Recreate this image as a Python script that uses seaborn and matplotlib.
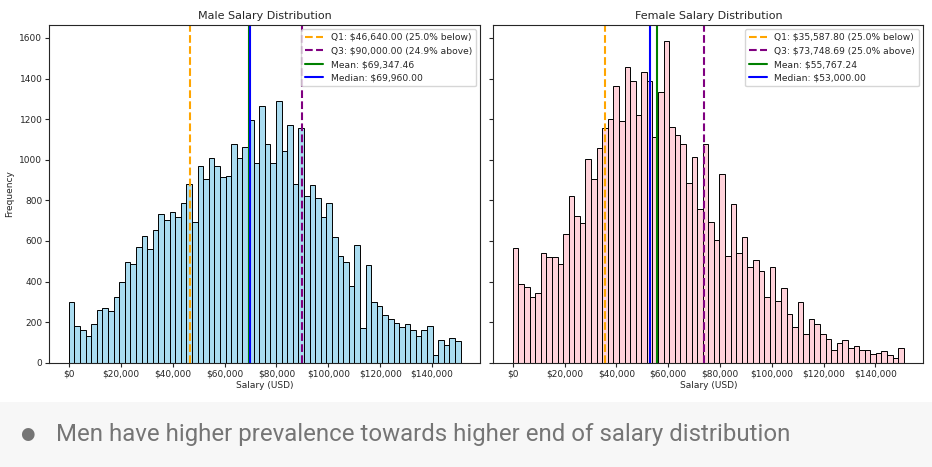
import matplotlib
matplotlib.use("Agg")
import numpy as np
import pandas as pd
import seaborn as sns
import matplotlib.pyplot as plt
from matplotlib.ticker import StrMethodFormatter
from matplotlib.patches import Rectangle

# Histogram counts (70 bins from $0 to ~$151k)
bin_lo, bin_hi, n_bins = 0, 151000, 70

male_counts = [300, 179, 163, 132, 192, 262, 271, 257, 322, 400,
               494, 484, 569, 625, 561, 653, 735, 701, 745, 719,
               788, 882, 691, 971, 903, 1010, 971, 915, 918, 1079,
               1008, 1061, 1196, 984, 1263, 1076, 984, 1290, 1041, 1173,
               880, 1155, 822, 878, 813, 720, 786, 620, 526, 498,
               378, 581, 173, 482, 299, 278, 237, 215, 196, 178,
               189, 163, 132, 160, 183, 36, 114, 89, 122, 105]

female_counts = [566, 390, 372, 322, 344, 543, 523, 521, 487, 635,
                 819, 722, 688, 1002, 905, 1058, 1155, 1203, 1364, 1189,
                 1456, 1387, 1219, 1434, 1388, 1114, 1332, 1586, 1163, 1122,
                 1076, 887, 1015, 757, 1076, 691, 605, 931, 528, 780,
                 540, 617, 474, 507, 451, 322, 474, 303, 368, 240,
                 176, 301, 140, 215, 191, 140, 115, 64, 97, 114,
                 72, 84, 64, 64, 43, 46, 59, 39, 23, 74]

# Summary stats shown in the legends
male_stats = {"q1": 46640.00, "q3": 90000.00, "mean": 69347.46, "median": 69960.00,
              "below": 25.0, "above": 24.9}
female_stats = {"q1": 35587.80, "q3": 73748.69, "mean": 55767.24, "median": 53000.00,
                "below": 25.0, "above": 25.0}

note_text = "Men have higher prevalence towards higher end of salary distribution"

sns.set_style("ticks")
plt.rcParams["font.family"] = ["DejaVu Sans"]

edges = np.linspace(bin_lo, bin_hi, n_bins + 1)
centers = (edges[:-1] + edges[1:]) / 2

fig = plt.figure(figsize=(9.32, 4.67), dpi=100)
fig.patches.append(Rectangle((0, 0), 1, 0.1398, transform=fig.transFigure,
                             facecolor="#f7f7f7", edgecolor="none", zorder=0))

ax_m = fig.add_axes([0.0529, 0.2233, 0.4624, 0.7238])
ax_f = fig.add_axes([0.5293, 0.2233, 0.4614, 0.7238], sharey=ax_m)


def draw_panel(ax, counts, stats, color, title):
    df = pd.DataFrame({"salary": centers, "count": counts})
    sns.histplot(data=df, x="salary", weights="count", bins=n_bins,
                 binrange=(bin_lo, bin_hi), ax=ax, color=color,
                 edgecolor="black", linewidth=0.7, alpha=0.7)
    ax.axvline(stats["q1"], color="orange", linestyle="--", linewidth=1.5,
               label=f"Q1: ${stats['q1']:,.2f} ({stats['below']:.1f}% below)")
    ax.axvline(stats["q3"], color="purple", linestyle="--", linewidth=1.5,
               label=f"Q3: ${stats['q3']:,.2f} ({stats['above']:.1f}% above)")
    ax.axvline(stats["mean"], color="green", linestyle="-", linewidth=1.5,
               label=f"Mean: ${stats['mean']:,.2f}")
    ax.axvline(stats["median"], color="blue", linestyle="-", linewidth=1.5,
               label=f"Median: ${stats['median']:,.2f}")
    ax.set_title(title, fontsize=8, pad=4)
    ax.set_xlabel("Salary (USD)", fontsize=6.5, labelpad=2)
    ax.xaxis.set_major_formatter(StrMethodFormatter("${x:,.0f}"))
    ax.set_xticks(np.arange(0, 140001, 20000))
    ax.tick_params(labelsize=6.5, length=3, pad=2)
    ax.legend(loc="upper right", fontsize=6.6, framealpha=0.8,
              borderpad=0.4, labelspacing=0.5, handlelength=2)


draw_panel(ax_m, male_counts, male_stats, "skyblue", "Male Salary Distribution")
draw_panel(ax_f, female_counts, female_stats, "pink", "Female Salary Distribution")

ax_m.set_ylabel("Frequency", fontsize=6.5, labelpad=4)
ax_f.set_ylabel("")
ax_f.tick_params(labelleft=False)
ax_m.set_yticks(np.arange(0, 1601, 200))

fig.text(0.029, 0.07, "\u25cf", fontsize=12, color="#757575", va="center", ha="center")
fig.text(0.06, 0.07, note_text, fontsize=17.3, color="#757575", va="center",
         family=["Roboto", "DejaVu Sans"])

fig.savefig("out.png", dpi=100)
